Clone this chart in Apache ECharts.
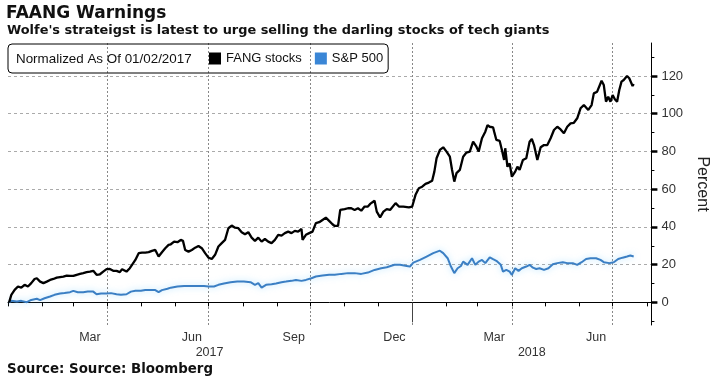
<!DOCTYPE html>
<html><head><meta charset="utf-8">
<script src="https://cdn.jsdelivr.net/npm/echarts@6/dist/echarts.min.js"></script>
<style>html,body{margin:0;padding:0;background:#fff}#c{width:718px;height:381px}</style>
</head><body><div id="c"></div>
<script>
// ---- data ----
const fangDates = ['2017-01-02','2017-01-04','2017-01-07','2017-01-10','2017-01-13','2017-01-16','2017-01-19','2017-01-22','2017-01-25','2017-01-27','2017-01-30','2017-02-02','2017-02-05','2017-02-08','2017-02-11','2017-02-14','2017-02-17','2017-02-20','2017-02-23','2017-02-26','2017-03-01','2017-03-04','2017-03-07','2017-03-10','2017-03-13','2017-03-16','2017-03-19','2017-03-22','2017-03-25','2017-03-28','2017-03-31','2017-04-03','2017-04-06','2017-04-09','2017-04-12','2017-04-14','2017-04-18','2017-04-21','2017-04-23','2017-04-26','2017-04-29','2017-05-02','2017-05-05','2017-05-08','2017-05-11','2017-05-14','2017-05-17','2017-05-20','2017-05-23','2017-05-26','2017-05-28','2017-05-31','2017-06-03','2017-06-06','2017-06-08','2017-06-10','2017-06-13','2017-06-16','2017-06-19','2017-06-22','2017-06-25','2017-06-28','2017-07-01','2017-07-04','2017-07-07','2017-07-10','2017-07-13','2017-07-16','2017-07-19','2017-07-22','2017-07-25','2017-07-28','2017-07-31','2017-08-03','2017-08-06','2017-08-09','2017-08-12','2017-08-15','2017-08-18','2017-08-21','2017-08-24','2017-08-27','2017-08-30','2017-09-02','2017-09-05','2017-09-08','2017-09-11','2017-09-14','2017-09-17','2017-09-20','2017-09-23','2017-09-24','2017-09-27','2017-09-30','2017-10-03','2017-10-06','2017-10-09','2017-10-12','2017-10-15','2017-10-18','2017-10-21','2017-10-23','2017-10-26','2017-10-28','2017-11-01','2017-11-04','2017-11-07','2017-11-10','2017-11-13','2017-11-16','2017-11-19','2017-11-22','2017-11-24','2017-11-28','2017-11-30','2017-12-03','2017-12-06','2017-12-09','2017-12-12','2017-12-17','2017-12-20','2017-12-24','2017-12-29','2018-01-01','2018-01-04','2018-01-07','2018-01-10','2018-01-13','2018-01-16','2018-01-19','2018-01-21','2018-01-23','2018-01-26','2018-01-29','2018-02-01','2018-02-04','2018-02-06','2018-02-08','2018-02-10','2018-02-13','2018-02-16','2018-02-19','2018-02-22','2018-02-25','2018-02-28','2018-03-02','2018-03-05','2018-03-08','2018-03-10','2018-03-12','2018-03-15','2018-03-16','2018-03-18','2018-03-21','2018-03-23','2018-03-25','2018-03-26','2018-03-28','2018-03-30','2018-04-01','2018-04-04','2018-04-06','2018-04-08','2018-04-11','2018-04-14','2018-04-17','2018-04-19','2018-04-21','2018-04-24','2018-04-27','2018-04-30','2018-05-03','2018-05-06','2018-05-09','2018-05-12','2018-05-15','2018-05-18','2018-05-21','2018-05-24','2018-05-27','2018-05-30','2018-06-02','2018-06-05','2018-06-09','2018-06-12','2018-06-14','2018-06-17','2018-06-21','2018-06-23','2018-06-25','2018-06-27','2018-06-29','2018-07-01','2018-07-03','2018-07-05','2018-07-07','2018-07-09','2018-07-11','2018-07-14','2018-07-16','2018-07-19','2018-07-20'];
const fangValues = [0,4,6.6,8.4,7.8,9.3,8.4,10.2,12.4,12.8,11,10.2,11,11.9,12.4,13.1,13.4,13.7,14.2,14,14,14.6,15.1,15.5,16,16.3,16.7,14.6,14.9,16.3,17.6,17.7,16.7,16.7,16,17.6,16.3,18.1,19.9,22.5,26.1,26.4,26.4,26.6,27.3,27.8,24.3,26.6,28.7,30.5,30.8,32.2,31.9,33.1,32.6,27.8,26.9,27.8,29,29.9,28.7,26.1,23.7,23,25.2,29.6,31.4,33.1,39.3,40.7,39.6,39.3,37.2,36.1,37.2,34.3,32.6,34.3,32.2,33.6,32.2,31.4,33.1,35.8,35.4,36.7,37.5,36.7,37.9,37.5,38.9,33.1,35.8,36.7,37.5,42,42.5,43.7,44.9,43.2,41.4,40.5,40.5,49,49.4,49.9,49.9,49,49.9,48.6,50.8,50.8,52.2,53.9,48.1,45.1,48.1,49.4,49,52.6,50.8,50.8,50.4,50.8,57,60.5,61.3,62.8,63.5,64.5,69.3,76.4,80.8,82.2,79.9,77.2,70.2,64,68.5,70.2,77.2,79.4,79.9,85.2,82.5,79.9,87,90.5,94,93.1,92.8,90.5,86.1,85.6,80.8,75.5,81.7,71.9,73.7,66.6,69.3,71.9,70.2,75.5,76.4,85.2,86.6,83.4,75.5,82.2,83.4,83.4,87,91.4,93.1,91.7,89.6,93.1,94.9,95.2,97.6,102.9,104.6,102,104.6,110.8,111.7,117.5,115.2,106.4,109,106.4,109.9,107.7,106.4,112.6,117,117.9,120,118.8,114.7,115.8];
const spxDates = ['2017-01-02','2017-01-04','2017-01-09','2017-01-13','2017-01-18','2017-01-22','2017-01-27','2017-01-30','2017-02-03','2017-02-08','2017-02-12','2017-02-17','2017-02-21','2017-02-26','2017-03-01','2017-03-05','2017-03-10','2017-03-14','2017-03-19','2017-03-22','2017-03-26','2017-03-31','2017-04-04','2017-04-09','2017-04-13','2017-04-18','2017-04-22','2017-04-26','2017-05-01','2017-05-05','2017-05-10','2017-05-14','2017-05-17','2017-05-20','2017-05-25','2017-05-28','2017-06-03','2017-06-09','2017-06-15','2017-06-21','2017-06-27','2017-07-01','2017-07-06','2017-07-10','2017-07-15','2017-07-21','2017-07-27','2017-08-02','2017-08-08','2017-08-12','2017-08-15','2017-08-18','2017-08-22','2017-08-27','2017-08-31','2017-09-05','2017-09-09','2017-09-14','2017-09-18','2017-09-23','2017-09-27','2017-10-02','2017-10-06','2017-10-12','2017-10-18','2017-10-23','2017-10-29','2017-11-04','2017-11-10','2017-11-16','2017-11-22','2017-11-28','2017-12-04','2017-12-09','2017-12-16','2017-12-21','2017-12-27','2017-12-30','2018-01-02','2018-01-08','2018-01-14','2018-01-20','2018-01-26','2018-01-29','2018-02-02','2018-02-05','2018-02-08','2018-02-11','2018-02-14','2018-02-16','2018-02-20','2018-02-24','2018-02-27','2018-03-02','2018-03-05','2018-03-08','2018-03-12','2018-03-15','2018-03-18','2018-03-22','2018-03-24','2018-03-27','2018-03-30','2018-04-01','2018-04-04','2018-04-07','2018-04-10','2018-04-14','2018-04-17','2018-04-20','2018-04-23','2018-04-26','2018-04-30','2018-05-04','2018-05-08','2018-05-12','2018-05-17','2018-05-21','2018-05-26','2018-05-30','2018-06-03','2018-06-07','2018-06-11','2018-06-16','2018-06-20','2018-06-23','2018-06-28','2018-07-02','2018-07-06','2018-07-10','2018-07-14','2018-07-17','2018-07-20'];
const spxValues = [0,0.8,0.4,0.8,0.1,1.3,1.9,1.2,2.2,3.1,4,4.7,5,5.4,6.1,5.4,5.4,5.7,5.7,4.3,4.7,4.7,4.9,4.3,4,4.3,5.7,6.1,6.1,6.5,6.5,6.5,5.4,6.5,7.2,7.8,8.4,8.7,8.7,8.7,8.7,8.4,8.4,9.3,10,10.7,11,11,10.7,9.3,10.2,7.8,9.3,9.6,10,10.7,11,11.4,11.9,11.4,11.9,12.8,13.7,14.2,14.6,14.6,15.1,15.5,15.5,15.1,15.8,17.2,18.1,18.6,19.9,19.9,19.3,19,21.1,22.5,24.3,26.1,27.4,26.1,23.4,19,15.5,18.1,19.3,21.6,19.9,23.4,19.9,21.6,22.5,20.8,23.9,22.9,22,19.9,16.3,17.2,16.3,14.6,18.1,16.7,18.1,19,19.9,18.4,17.7,18.1,17.2,18.1,20.2,20.8,21.3,20.8,20.8,19.9,21.3,23,23.4,23.4,22.5,21.3,20.8,21.3,23,23.7,24.3,24.8,24.3];

const seriesNames = ['FANG stocks', 'S&P 500'];
const axisStart = '2017-01-01';
const axisEnd = '2018-08-05';
const yTickValues = [0, 20, 40, 60, 80, 100, 120];
const yMinorTickValues = [-10, 10, 30, 50, 70, 90, 110, 130];
const monthLabelDays = ['2017-03-16','2017-06-16','2017-09-16','2017-12-16','2018-03-16','2018-06-16'];
const monthLabelTexts = ['Mar','Jun','Sep','Dec','Mar','Jun'];
const quarterLineDays = ['2017-04-01','2017-07-01','2017-10-01','2018-01-01','2018-04-01','2018-07-01'];
const yearLabelDays = ['2017-07-02','2018-04-19'];
const yearLabelTexts = ['2017','2018'];
const yearBreakDays = ['2018-01-01'];

// ---- build calendar-day categories for the x axis ----
const days = [];
for (let t = Date.parse(axisStart + 'T00:00:00Z'); t <= Date.parse(axisEnd + 'T00:00:00Z'); t += 86400000) {
  days.push(new Date(t).toISOString().slice(0, 10));
}
const pair = (d, v) => d.map((x, i) => [x, v[i]]);

const FONT = 'Liberation Sans';
const chart = echarts.init(document.getElementById('c'), null, {renderer: 'canvas'});
chart.setOption({
  animation: false,
  backgroundColor: '#fff',
  title: [
    {text: 'FAANG Warnings', left: 6, top: 5, padding: 0,
     textStyle: {fontFamily: 'DejaVu Sans', fontWeight: 'bold', fontSize: 17, color: '#111'}},
    {text: "Wolfe's strateigst is latest to urge selling the darling stocks of tech giants", left: 7, top: 24, padding: 0,
     textStyle: {fontFamily: 'DejaVu Sans', fontWeight: 'bold', fontSize: 12.9, color: '#111'}},
    {text: 'Normalized As Of 01/02/2017', left: 16, top: 53, padding: 0,
     textStyle: {fontFamily: FONT, fontWeight: 'normal', fontSize: 13.4, color: '#111'}},
    {text: 'Source: Source: Bloomberg', left: 7, top: 363, padding: 0,
     textStyle: {fontFamily: 'DejaVu Sans', fontWeight: 'bold', fontSize: 13.4, color: '#111'}}
  ],
  legend: {
    left: 8, top: 44, padding: [8, 5, 8, 201],
    borderColor: '#000', borderWidth: 1, borderRadius: 4,
    itemWidth: 12, itemHeight: 12, itemGap: 13, icon: 'rect',
    selectedMode: false,
    textStyle: {fontFamily: FONT, fontSize: 13, color: '#111'},
    data: seriesNames
  },
  grid: {left: 8, right: 61, top: 43, bottom: 56, containLabel: false},
  xAxis: [
    {
      type: 'category', data: days, boundaryGap: false,
      axisLine: {show: true, lineStyle: {color: '#000', width: 1}},
      axisTick: {show: true, length: 4, lineStyle: {color: '#000'},
                 interval: (i, v) => v.slice(8) === '01'},
      axisLabel: {show: true, margin: 6, fontFamily: FONT, fontSize: 12.5, color: '#333',
                  interval: (i, v) => monthLabelDays.indexOf(v) >= 0,
                  formatter: v => monthLabelTexts[monthLabelDays.indexOf(v)]},
      splitLine: {show: true, interval: (i, v) => quarterLineDays.indexOf(v) >= 0,
                  lineStyle: {color: '#888888', type: [2, 2], width: 1}}
    },
    {
      type: 'category', data: days, boundaryGap: false, position: 'bottom', offset: 17,
      axisLine: {show: false},
      axisTick: {show: true, length: 20, lineStyle: {color: '#444'},
                 interval: (i, v) => yearBreakDays.indexOf(v) >= 0},
      axisLabel: {show: true, margin: 4, fontFamily: FONT, fontSize: 12.5, color: '#333',
                  interval: (i, v) => yearLabelDays.indexOf(v) >= 0,
                  formatter: v => yearLabelTexts[yearLabelDays.indexOf(v)]},
      splitLine: {show: false}
    }
  ],
  yAxis: [
    {
      type: 'value', position: 'right', min: -12, max: 137.5,
      name: 'Percent', nameLocation: 'middle', nameRotate: -90, nameGap: 40,
      nameTextStyle: {fontFamily: FONT, fontSize: 16, color: '#222'},
      axisLine: {show: true, lineStyle: {color: '#000', width: 1}},
      axisTick: {show: true, length: 6, customValues: yTickValues, lineStyle: {color: '#000', width: 2.5}},
      axisLabel: {show: true, margin: 10, customValues: yTickValues, fontFamily: FONT, fontSize: 13, color: '#333'},
      splitLine: {show: true, lineStyle: {color: '#aaaaaa', type: [3, 3], width: 1}}
    },
    {
      type: 'value', position: 'right', min: -12, max: 137.5,
      axisLine: {show: false},
      axisTick: {show: true, length: 3, customValues: yMinorTickValues, lineStyle: {color: '#000', width: 1}},
      axisLabel: {show: false},
      splitLine: {show: false}
    }
  ],
  series: [
    {
      name: seriesNames[0], type: 'line', xAxisIndex: 0, yAxisIndex: 0,
      data: pair(fangDates, fangValues), showSymbol: false, symbol: 'none', connectNulls: true,
      color: '#000', lineStyle: {color: '#000', width: 2.3}, z: 3
    },
    {
      name: seriesNames[1], type: 'line', xAxisIndex: 0, yAxisIndex: 0,
      data: pair(spxDates, spxValues), showSymbol: false, symbol: 'none', connectNulls: true,
      color: '#3a86d6',
      lineStyle: {color: '#3b7fc4', width: 2, shadowColor: 'rgba(110,200,255,0.55)', shadowBlur: 6}, z: 2
    }
  ]
});
</script>
</body></html>
